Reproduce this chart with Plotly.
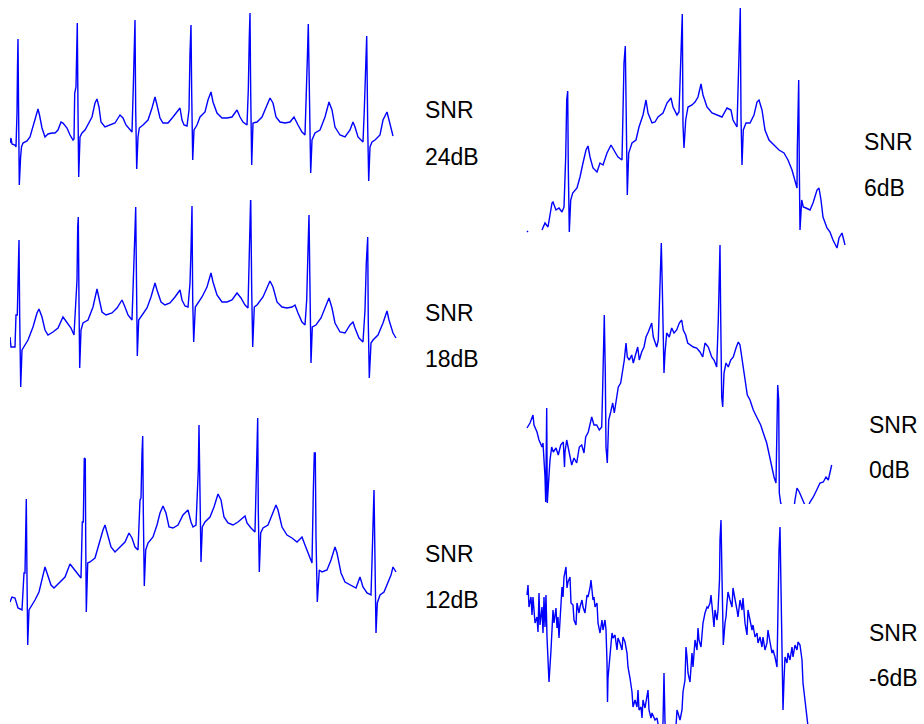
import plotly.graph_objects as go

W, H = 924, 724

# ---- ECG segments at different noise levels (sample index, amplitude in arbitrary units) ----
# SNR 24 dB
t24 = [0, 1, 2, 5, 6, 6.3, 7, 7.5, 8, 8.6, 9.3, 10.6, 11.5, 13, 17, 20, 23, 26, 28, 29.5, 32, 35, 38, 42, 45, 48, 51, 53, 57, 60, 63, 64,
       64.7, 66, 66.7, 67.3, 68, 68.7, 70, 72, 75, 78, 82, 85, 87, 89, 91, 95, 100, 105, 110, 113, 116, 120, 122,
       123.3, 124.3, 125, 125.7, 126.7, 128, 129.3, 133, 138, 142, 145, 147, 150, 153, 158, 163, 167, 170, 172, 174, 177,
       179, 180, 181, 181.7, 182.7, 184, 187, 190, 195, 198, 201, 203, 207, 212, 217, 222, 227, 230, 233, 237,
       238.3, 239.3, 240, 240.7, 241.7, 243, 247, 252, 257, 260, 263, 266, 270, 275, 280, 284, 288, 292, 295,
       296, 297.3, 298.3, 299.3, 300.7, 302, 305, 310, 315, 319, 322, 325, 330, 335, 340, 343, 345, 348, 353,
       354.3, 355.7, 356.7, 357.7, 358.7, 360, 362, 365, 370, 373, 377, 379, 383]
a24 = [57, 62, 56, 55, 53, 87, 87, 133, 161, 90, 15, 43, 53, 57, 59, 63, 73, 85, 91, 85, 72, 63, 66, 67, 67, 70, 78, 77, 72, 65, 60, 61,
       107, 113, 157, 177, 90, 23, 63, 67, 70, 75, 83, 97, 101, 93, 78, 73, 75, 77, 85, 82, 75, 70, 68,
       113, 147, 180, 90, 31, 63, 72, 75, 80, 92, 103, 95, 82, 77, 77, 83, 88, 92, 80, 75, 74,
       90, 147, 175, 107, 40, 70, 75, 83, 88, 100, 108, 98, 87, 82, 82, 83, 90, 83, 78, 75,
       110, 163, 187, 107, 35, 77, 78, 83, 95, 102, 97, 83, 78, 77, 78, 83, 75, 68, 65,
       90, 140, 176, 90, 27, 60, 67, 70, 83, 98, 90, 73, 65, 63, 70, 78, 73, 63, 58,
       90, 137, 164, 73, 19, 53, 58, 60, 65, 80, 88, 80, 64]

# SNR 18 dB
t18 = [0, 1, 5, 6, 7.3, 8.3, 9, 9.7, 10.7, 12, 14, 18, 23, 27, 29, 32, 35, 38, 43, 48, 53, 57, 61, 64,
       66, 67, 67.7, 68.3, 69, 69.7, 71, 73, 78, 83, 87, 89, 92, 96, 102, 107, 112, 115, 118, 122,
       123.3, 124.3, 125, 125.7, 126.3, 127.3, 128.7, 132, 137, 141, 145, 147, 151, 155, 160, 165, 170, 172, 175, 178,
       180, 181, 182, 182.7, 183.7, 185.3, 188, 192, 197, 201, 203, 207, 212, 217, 222, 227, 231, 235, 238,
       239, 240, 240.7, 241.7, 242.7, 244.3, 247, 253, 257, 260, 263, 267, 272, 277, 282, 285, 288, 292, 295,
       296.7, 298, 299, 300, 301, 302.3, 306, 311, 315, 319, 322, 325, 330, 335, 340, 343, 345, 349, 353,
       355, 356.3, 357.7, 358.3, 359.3, 361, 363, 368, 373, 377, 379, 383, 386]
a18 = [63, 53, 53, 85, 85, 132, 160, 83, 13, 50, 53, 60, 73, 87, 91, 83, 70, 65, 68, 72, 83, 78, 72, 65,
       110, 120, 173, 183, 97, 32, 70, 77, 80, 93, 111, 103, 88, 85, 87, 92, 100, 93, 85, 80,
       117, 130, 170, 193, 103, 44, 80, 85, 92, 103, 117, 110, 98, 95, 97, 103, 110, 100, 94, 93,
       117, 150, 194, 100, 58, 93, 97, 103, 113, 127, 118, 105, 98, 98, 100, 107, 102, 95, 92,
       130, 180, 205, 110, 53, 93, 95, 103, 113, 119, 113, 98, 93, 92, 93, 95, 87, 78, 75,
       100, 150, 185, 110, 37, 73, 75, 82, 92, 102, 92, 77, 68, 67, 75, 78, 72, 62, 58,
       90, 137, 163, 77, 22, 57, 60, 65, 77, 89, 80, 67, 62]

# SNR 12 dB
t12 = [0, 2, 5, 8, 12, 14, 15, 15.7, 16.3, 17, 17.7, 19, 21, 25, 29, 33, 35, 37, 41, 44, 49, 55, 60, 63, 67, 71,
       72.3, 73.3, 74.3, 75.3, 75.7, 76.3, 77.7, 80, 85, 89, 93, 95, 97, 101, 105, 110, 115, 119, 122, 125, 128,
       130, 131, 132, 132.7, 133.3, 134.3, 135.7, 138, 143, 147, 150, 153, 156, 159, 163, 168, 173, 178, 181, 183, 186,
       187.3, 188.3, 189, 190, 191, 192.3, 195, 200, 204, 208, 211, 214, 218, 223, 228, 235, 237, 241, 245,
       246, 247, 247.7, 248.3, 249.3, 250.7, 253, 258, 263, 266, 268, 272, 277, 282, 287, 292, 295, 298, 302,
       303.3, 304.3, 305.3, 306, 307.3, 309.3, 312, 317, 321, 325, 327, 331, 335, 340, 346, 350, 353, 357, 361,
       362, 363.3, 364, 365, 366, 367.3, 370, 374, 377, 381, 383, 386]
a12 = [48, 53, 52, 42, 40, 77, 77, 123, 151, 73, 5, 40, 43, 50, 58, 73, 83, 77, 65, 62, 67, 73, 86, 82, 77, 72,
       128, 128, 192, 191, 113, 38, 87, 88, 92, 107, 120, 125, 117, 103, 98, 103, 108, 117, 112, 103, 100,
       150, 152, 197, 214, 140, 64, 100, 107, 113, 125, 137, 144, 137, 123, 122, 125, 135, 140, 128, 123, 125,
       158, 180, 225, 153, 88, 123, 128, 133, 143, 156, 150, 133, 127, 125, 128, 134, 127, 122, 118,
       160, 210, 232, 140, 78, 117, 122, 125, 138, 145, 140, 123, 115, 112, 108, 113, 105, 97, 87,
       158, 197, 197, 113, 48, 80, 78, 80, 90, 103, 97, 77, 68, 65, 62, 73, 63, 57, 55,
       88, 133, 160, 90, 17, 47, 55, 58, 65, 75, 83, 78]

# SNR 6 dB (None marks a dropout in the record)
t6 = [2, 3, None, 17, 20, 23, 27, 28, 31, 34, 37, 39,
      40.7, 41.7, 42.7, 43.3, 44.3, 45.7, 47.7, 52, 55, 58, 61, 63, 65, 68, 72, 75, 78, 82, 86, 90, 93, 97,
      97.7, 99, 100.3, 101, 101.7, 102.3, 103.7, 107, 111, 114, 118, 121, 123, 127, 130, 133, 138, 142, 146, 148, 152, 154,
      155, 156.3, 157.3, 158, 159, 160.7, 163, 167, 170, 173, 176, 178, 182, 187, 192, 197, 202, 206, 208, 212,
      213.3, 214.3, 215.3, 216, 217, 218.3, 221, 225, 229, 232, 234, 237, 240, 244, 249, 254, 259, 263, 267, 270, 272,
      272.3, 273, 273.7, 274.3, 275, 276.7, 278.3, 281, 285, 288, 292, 294, 296, 298, 302, 305, 308, 312, 314, 317, 319, 320]
a6 = [19, 18, None, 20, 27, 23, 47, 48, 40, 42, 38, 43,
      93, 150, 159, 82, 18, 50, 57, 62, 73, 87, 100, 104, 93, 82, 78, 87, 85, 97, 105, 98, 93, 90,
      137, 187, 204, 143, 70, 55, 97, 107, 110, 123, 135, 150, 137, 127, 128, 133, 137, 147, 152, 143, 135, 138,
      167, 210, 236, 125, 102, 130, 143, 145, 148, 153, 166, 155, 143, 137, 135, 133, 142, 140, 130, 123,
      170, 220, 242, 133, 85, 120, 127, 127, 135, 148, 150, 140, 120, 110, 105, 100, 97, 90, 80, 68, 62,
      100, 170, 170, 83, 20, 50, 43, 42, 40, 47, 60, 62, 50, 33, 22, 18, 10, 2, 12, 17, 10, 5]

# SNR 0 dB
t0 = [2, 5, 8, 9, 12, 14, 17, 18,
      20, 20.7, 21.7, 22.3, 23.7, 25, 26.7, 28.3, 31, 33.3, 35.7, 38.3, 39.5, 40, 41.7, 44.3, 46.7, 49, 51.7, 54.3, 56.7,
      59, 60.7, 63.3, 66.7, 69, 71.7, 74.3, 76.7,
      77.7, 78.3, 79.3, 80.3, 81, 82.3, 83.7, 85.7, 87.7, 89.3, 91.7, 93.3, 95.7, 97.7, 99.3, 101, 102.3, 104.3, 106.7,
      108.3, 111, 112.7, 114.3, 116.7, 119, 121, 123.3, 125, 126.7, 128.3, 130, 131.7, 133.3,
      134.3, 135.3, 136.3, 137.3, 138.3, 139, 140, 141.7, 144.3, 146.7, 149, 151.7, 154.3, 156.7, 158.3, 160.7, 162.7,
      165.7, 168.3, 171.7, 175, 177.7, 180, 183.3, 186.7, 189, 191.7,
      193.3, 194.3, 195, 195.7, 196.7, 197.7, 199, 201, 203.3, 205.7, 208.3, 211, 213.3, 215, 216.7, 219, 222.3, 225,
      228.3, 231.7, 235.7, 238.3, 241.7, 244.3, 246.7, 249, 251,
      251.7, 252.7, 253.7, 254.3, 255.7, 260, 265, 269, 270, 272, 274.3, 276.7, 279, 282, 285, 288.3, 291.7, 295,
      298.3, 301, 303.3, 305, 306.7]
a0 = [76, 81, 89, 79, 72, 64, 57, 61,
      27, 2, 96, 1, 24, 44, 57, 52, 56, 49, 59, 62, 37, 52, 64, 51, 39, 46, 41, 57, 59,
      51, 67, 72, 87, 79, 79, 74, 77,
      117, 167, 189, 131, 57, 41, 84, 92, 101, 91, 107, 117, 121, 132, 144, 161, 147, 144, 149,
      141, 151, 157, 144, 152, 157, 167, 172, 176, 181, 167, 162, 157, 164,
      194, 237, 261, 217, 154, 131, 151, 171, 167, 176, 171, 174, 181, 184, 174, 169, 161,
      159, 157, 156, 152, 147, 161, 157, 147, 144, 137,
      184, 241, 259, 187, 107, 97, 131, 141, 137, 144, 147, 156, 162, 159, 147, 127, 109, 104,
      94, 87, 79, 71, 61, 49, 36, 27, 21,
      81, 119, 104, 11, 1, -11, -16, -4, 4, 16, 12, 7, 2, -6, 2, 7, 14, 21,
      22, 27, 24, 31, 39]

# SNR -6 dB
tm6 = [2, 3, 4, 6, 7, 8, 10, 12, 13, 14, 15, 17, 18, 19, 20, 21, 22, 23, 24, 26, 27, 28, 29, 31, 32, 33, 34,
       36, 37, 38, 39, 41, 42, 43, 45, 46, 48, 49, 51, 52, 54, 55, 57, 58, 60, 62, 63, 65, 66, 68, 69, 70,
       72, 73, 75, 77, 78, 80, 81, 82, 82.5, 83, 85, 87, 88, 90, 92, 93, 95, 97, 98, 100, 102, 103, 105,
       107, 108, 110, 112, 113, 114, 116, 117, 118, 120, 122, 123, 124, 126, 127, 128, 130, 132, 133, 135,
       137, 138, 139, 140, 143, 148, 151, 152, 153, 155, 157, 158, 160, 161, 162, 163, 165, 167, 168, 170,
       172, 173, 174, 176, 177, 178, 180, 182, 183, 185, 186, 188, 189, 190, 192, 193, 194, 194.5, 195, 196,
       197, 197.7, 198.3, 200, 201, 202, 203, 205, 207, 208, 210, 212, 213, 215, 217, 218, 220, 222, 223,
       225, 227, 228, 230, 232, 233, 235, 237, 238, 240, 242, 243, 245, 247, 248, 250, 252, 253, 254, 255,
       256, 257, 258, 259, 260, 262, 263, 265, 267, 268, 270, 272, 273, 275, 277, 278, 280, 282, 283, 284]
am6 = [129, 139, 117, 127, 109, 127, 101, 107, 92, 131, 99, 117, 91, 127, 97, 129, 87, 69, 42, 74, 104, 114, 101, 116, 96, 107, 86,
       129, 137, 127, 147, 157, 136, 142, 147, 121, 119, 104, 99, 121, 111, 117, 124, 117, 111, 129, 127, 136, 144, 124, 127, 117,
       121, 101, 91, 104, 94, 104, 94, 62, 22, 46, 67, 91, 86, 89, 74, 86, 81, 74, 87, 82, 71, 57, 46,
       32, 17, 24, 17, 34, 14, 17, 6, 24, 16, 27, 34, 14, 6, 11, 9, 4, 6, 1, -11,
       -6, 1, 51, 1, -11, -16, -2, 14, 11, 4, 14, 32, 44, 77, 67, 51, 42, 71, 57, 84,
       74, 96, 84, 77, 89, 101, 111, 117, 116, 121, 129, 111, 97, 114, 104, 114, 131, 144, 184, 204,
       147, 114, 79, 101, 107, 121, 132, 124, 117, 136, 126, 114, 107, 124, 114, 126, 101, 89, 114,
       102, 94, 99, 87, 91, 81, 87, 77, 87, 74, 81, 94, 82, 71, 74, 67, 57, 127, 174, 197,
       131, 64, 14, 44, 67, 61, 71, 64, 77, 67, 79, 74, 82, 79, 64, 41, 24, 7, 1, -11]

SERIES = [
    (t24, a24, ("SNR", "24dB")),
    (t18, a18, ("SNR", "18dB")),
    (t12, a12, ("SNR", "12dB")),
    (t6, a6, ("SNR", "6dB")),
    (t0, a0, ("SNR", "0dB")),
    (tm6, am6, ("SNR", "-6dB")),
]

# Panel boxes in pixels (left, right, top, bottom) and label anchor (x, y of first line, line gap)
BOXES = [
    (10, 400, 0, 200), (10, 400, 200, 400), (10, 400, 400, 650),
    (525, 850, 0, 250), (525, 850, 240, 504), (525, 850, 505, 724),
]
LABELS = [
    (423, 110, 47), (423, 313, 46), (423, 554, 46),
    (862, 142, 46), (867, 425, 45), (867, 633, 45),
]

fig = go.Figure()
for i, ((t, a, lab), (x0, x1, y0, y1)) in enumerate(zip(SERIES, BOXES)):
    n = "" if i == 0 else str(i + 1)
    fig.add_trace(go.Scatter(x=t, y=a, mode="lines", xaxis="x" + n, yaxis="y" + n,
                             line=dict(color="#0000ff", width=1.4), connectgaps=False,
                             hoverinfo="skip", showlegend=False))
    ax = dict(domain=[x0 / W, x1 / W], range=[0, x1 - x0], visible=False, fixedrange=True)
    ay = dict(domain=[1 - y1 / H, 1 - y0 / H], range=[0, y1 - y0], visible=False, fixedrange=True)
    if i > 0:
        ax["anchor"] = "y" + n
        ay["anchor"] = "x" + n
    fig.layout["xaxis" + n] = ax
    fig.layout["yaxis" + n] = ay

for (lx, ly, gap), (_, _, lab) in zip(LABELS, SERIES):
    for k, s in enumerate(lab):
        fig.add_annotation(x=lx / W, y=1 - (ly + k * gap) / H, xref="paper", yref="paper",
                           text=s, showarrow=False, xanchor="left", yanchor="middle",
                           font=dict(family="Liberation Sans, Arial, sans-serif", size=23, color="black"))

fig.update_layout(width=W, height=H, margin=dict(l=0, r=0, t=0, b=0),
                  paper_bgcolor="white", plot_bgcolor="rgba(0,0,0,0)")
fig.write_html("out.html", config={"displayModeBar": False})
